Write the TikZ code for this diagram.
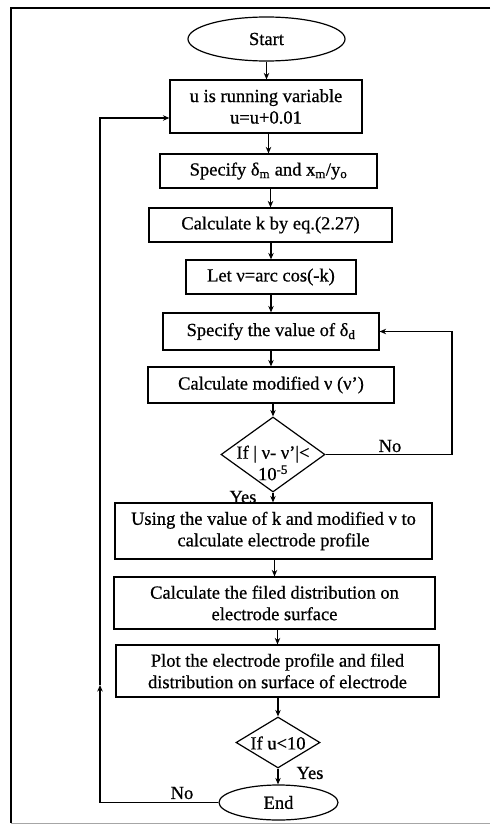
\documentclass[tikz,border=0pt]{standalone}
\usepackage{fontspec}
\setmainfont{Liberation Serif}[FakeBold=0.7]
\usetikzlibrary{shapes.geometric,arrows.meta}
\begin{document}
\begin{tikzpicture}[x=1pt,y=-1pt,
  every node/.style={font=\fontsize{18.5}{21.5}\selectfont, inner sep=0pt, align=center},
  box/.style={draw, line width=1.2pt, rectangle},
  term/.style={draw, line width=1.2pt, ellipse},
  dec/.style={draw, line width=1.2pt, diamond},
  flow/.style={line width=1.2pt, -{Stealth[length=6.5pt,width=5.5pt]}},
  plain/.style={line width=1.2pt}]
\useasboundingbox (0,0) rectangle (490,824);
% frame
\draw[line width=2.2pt] (490,8) -- (11,8) -- (11,823);
\draw[line width=0.8pt, black!35] (11,823) -- (490,823);
% nodes
\node[term, minimum width=157pt, minimum height=44pt] (start) at (266.5,39) {Start};
\node[box, minimum width=192pt, minimum height=53pt] (b1) at (266,106.5) {u is running variable\\u=u+0.01};
\node[box, minimum width=217pt, minimum height=34pt] (b2) at (268.5,171) {Specify δ\textsubscript{m} and x\textsubscript{m}/y\textsubscript{o}};
\node[box, minimum width=243pt, minimum height=34pt] (b3) at (270.5,225) {Calculate k by eq.(2.27)};
\node[box, minimum width=170pt, minimum height=34pt] (b4) at (271,277) {Let ν=arc cos(-k)};
\node[box, minimum width=216pt, minimum height=37pt] (b5) at (271,331.5) {Specify the value of δ\textsubscript{d}};
\node[box, minimum width=246pt, minimum height=36pt] (b6) at (271,385) {Calculate modified ν (ν’)};
\node[dec, minimum width=104pt, minimum height=75pt] (d1) at (273,454.5) {};
\node (d1t) at (273,463) {If | ν- ν’|<\\10\textsuperscript{-5}};
\node[box, minimum width=317pt, minimum height=56pt] (b7) at (273.5,531) {Using the value of k and modified ν to\\calculate electrode profile};
\node[box, minimum width=321pt, minimum height=52pt] (b8) at (274.5,603) {Calculate the filed distribution on\\electrode surface};
\node[box, minimum width=323pt, minimum height=52pt] (b9) at (277.5,671) {Plot the electrode profile and filed\\distribution on surface of electrode};
\node[dec, minimum width=84pt, minimum height=51pt] (d2) at (278,742.5) {};
\node (d2t) at (278,743) {If u<10};
\node[term, minimum width=119pt, minimum height=35pt] (end) at (278.5,802.5) {End};
% labels
\node (no1) at (390,446) {No};
\node (yes1) at (243,497) {Yes};
\node (yes2) at (310,773) {Yes};
\node (no2) at (182,793) {No};
% vertical flow
\draw[flow] (start.south) -- (start.south |- b1.north);
\draw[flow] (b1.south -| b2.north) -- (b2.north);
\draw[flow] (b2.south -| b3.north) -- (b3.north);
\draw[flow] (b3.south -| b4.north) -- (b4.north);
\draw[flow] (b4.south -| b5.north) -- (b5.north);
\draw[flow] (b5.south -| b6.north) -- (b6.north);
\draw[flow] (b6.south -| d1.north) -- (d1.north);
\draw[flow] (d1.south) -- (d1.south |- b7.north);
\draw[flow] (b7.south -| b8.north) -- (b8.north);
\draw[flow] (b8.south -| b9.north) -- (b9.north);
\draw[flow] (b9.south -| d2.north) -- (d2.north);
\draw[flow] (d2.south) -- (d2.south |- end.north);
% No loop (right)
\coordinate (r1) at (452,454.5);
\draw[flow] (d1.east) -- (r1) |- (b5.east);
% No loop (left)
\coordinate (l1) at (100,802.5);
\coordinate (lm) at (100,685);
\coordinate (l2) at (100,118);
\coordinate (b1in) at (b1.west |- l2);
\draw[flow] (end.west) -- (l1) -- (lm);
\draw[flow] (lm) -- (l2) -- (b1in);
\end{tikzpicture}
\end{document}
